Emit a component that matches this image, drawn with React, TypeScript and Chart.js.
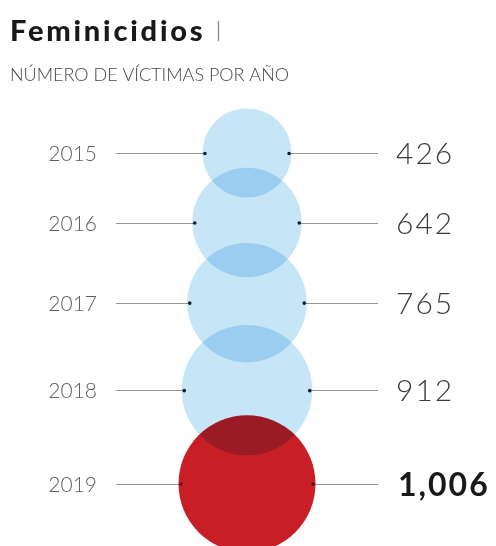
import React, { useEffect, useRef } from 'react';
import { Chart, registerables } from 'chart.js';

Chart.register(...registerables);

// ---- data ----
const years = ['2015', '2016', '2017', '2018', '2019'];
const victims = [426, 642, 765, 912, 1006];
const valueLabels = ['426', '642', '765', '912', '1,006'];
const highlighted = [false, false, false, false, true];

const TITLE = 'Feminicidios';
const SUBTITLE = 'NÚMERO DE VÍCTIMAS POR AÑO';

// ---- layout constants ----
const W = 496;
const H = 546;
const RADIUS_K = 2.16; // px of radius per sqrt(victim)
const OVERLAP = 0.7; // center distance as fraction of radii sum
const FIRST_CENTER = 153;
const LINE_LEFT = 116;
const LINE_RIGHT = 378;
const YEAR_RIGHT = 97;
const VALUE_LEFT = 396;

const BLUE = 'rgb(198, 229, 247)';
const RED = 'rgb(200, 30, 38)';

export default function App() {
  const ref = useRef<HTMLCanvasElement>(null);

  useEffect(() => {
    document.body.style.margin = '0';
    const canvas = ref.current;
    if (!canvas) return;

    const radii = victims.map((v) => Math.sqrt(v) * RADIUS_K);
    const pos: number[] = [];
    radii.forEach((r, i) => {
      pos.push(i === 0 ? 0 : pos[i - 1] + OVERLAP * (radii[i - 1] + r));
    });
    const points = victims.map((v, i) => ({ x: 0, y: pos[i], r: radii[i] }));

    const overlay = {
      id: 'overlay',
      beforeDraw(chart: any) {
        const ctx = chart.ctx;
        ctx.save();
        ctx.fillStyle = '#ffffff';
        ctx.fillRect(0, 0, chart.width, chart.height);
        ctx.restore();
      },
      beforeDatasetsDraw(chart: any) {
        const ctx = chart.ctx;
        const xs = chart.scales.x;
        const ys = chart.scales.y;
        ctx.save();
        ctx.strokeStyle = 'rgb(150,150,150)';
        ctx.lineWidth = 1;
        pos.forEach((p, i) => {
          const cx = xs.getPixelForValue(0);
          const cy = Math.round(ys.getPixelForValue(p)) + 0.5;
          const r = radii[i] - 2.5;
          ctx.beginPath();
          ctx.moveTo(LINE_LEFT, cy);
          ctx.lineTo(cx - r, cy);
          ctx.moveTo(cx + r, cy);
          ctx.lineTo(LINE_RIGHT, cy);
          ctx.stroke();
        });
        ctx.restore();
        ctx.save();
        ctx.globalCompositeOperation = 'multiply';
      },
      afterDatasetsDraw(chart: any) {
        const ctx = chart.ctx;
        ctx.restore();
        const xs = chart.scales.x;
        const ys = chart.scales.y;
        ctx.save();
        pos.forEach((p, i) => {
          const cx = xs.getPixelForValue(0);
          const cy = ys.getPixelForValue(p);
          const r = radii[i] - 2.5;
          ctx.fillStyle = highlighted[i] ? 'rgb(90,15,20)' : 'rgb(20,30,45)';
          ctx.beginPath();
          ctx.arc(cx - r, cy + 0.5, 1.8, 0, Math.PI * 2);
          ctx.arc(cx + r, cy + 0.5, 1.8, 0, Math.PI * 2);
          ctx.fill();

          // year label
          ctx.textAlign = 'right';
          ctx.textBaseline = 'alphabetic';
          ctx.fillStyle = 'rgb(95,95,95)';
          ctx.font = '300 21px Lato';
          (ctx as any).letterSpacing = '0px';
          ctx.fillText(years[i], YEAR_RIGHT, cy + 8);

          // value label
          ctx.textAlign = 'left';
          if (highlighted[i]) {
            ctx.fillStyle = 'rgb(25,25,25)';
            ctx.font = '700 32px Lato';
            (ctx as any).letterSpacing = '2px';
            ctx.fillText(valueLabels[i], VALUE_LEFT + 2, cy + 12);
          } else {
            ctx.fillStyle = 'rgb(60,60,60)';
            ctx.font = '300 30px Lato';
            (ctx as any).letterSpacing = '2px';
            ctx.fillText(valueLabels[i], VALUE_LEFT, cy + 11);
          }
        });

        // title
        (ctx as any).letterSpacing = '2.8px';
        ctx.textAlign = 'left';
        ctx.fillStyle = 'rgb(25,25,25)';
        ctx.font = '900 29px Lato';
        ctx.fillText(TITLE, 10, 41);
        ctx.strokeStyle = 'rgb(140,140,140)';
        ctx.lineWidth = 1.3;
        ctx.beginPath();
        ctx.moveTo(218.5, 21);
        ctx.lineTo(218.5, 41);
        ctx.stroke();

        (ctx as any).letterSpacing = '0px';
        ctx.fillStyle = 'rgb(70,70,70)';
        ctx.font = '300 18px Lato';
        ctx.fillText(SUBTITLE, 10, 81);
        ctx.restore();
      },
    };

    const chart = new Chart(canvas, {
      type: 'bubble',
      data: {
        datasets: [
          {
            label: 'Víctimas',
            data: points,
            backgroundColor: victims.map((_, i) => (highlighted[i] ? RED : BLUE)),
            borderWidth: 0,
            hoverBorderWidth: 0,
            hoverRadius: 0,
            clip: false,
          },
        ],
      },
      options: {
        responsive: false,
        animation: false,
        devicePixelRatio: 1,
        layout: { autoPadding: false, padding: { left: 0, right: 2, top: 0, bottom: 0 } },
        scales: {
          x: { type: 'linear', min: -1, max: 1, display: false },
          y: {
            type: 'linear',
            reverse: true,
            min: -FIRST_CENTER,
            max: H - FIRST_CENTER,
            display: false,
          },
        },
        plugins: {
          legend: { display: false },
          tooltip: { enabled: false },
        },
        events: [],
      },
      plugins: [overlay],
    });

    return () => chart.destroy();
  }, []);

  return (
    <div style={{ position: 'absolute', left: 0, top: 0, width: W, height: H }}>
      <canvas ref={ref} width={W} height={H} style={{ display: 'block', width: W, height: H }} />
    </div>
  );
}
